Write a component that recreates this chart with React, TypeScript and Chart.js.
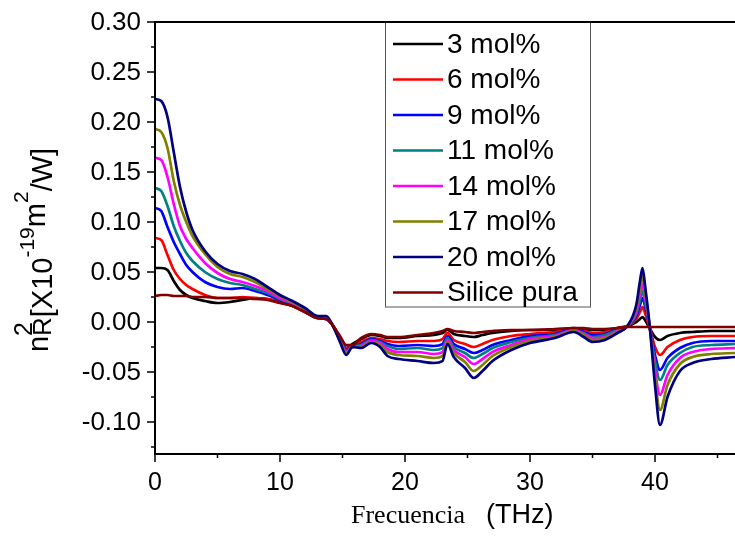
import React, { useEffect, useRef } from "react";
import { Chart, registerables } from "chart.js";

Chart.register(...registerables);

// Frequency (THz) sample positions
const FREQ = [
  0, 0.5, 1, 1.5, 2, 2.5, 3, 4, 5, 6, 7, 8, 9, 10, 11, 12, 13, 13.7, 14.2, 14.8,
  15.3, 15.8, 16.5, 17.3, 18, 18.6, 19.5, 21, 22.3, 23, 23.4, 23.9, 24.8, 25.5, 26.2, 27, 28.5,
  30, 32, 33.5, 34.3, 35, 36, 37, 37.8, 38.5, 38.8, 39, 39.2, 39.6, 40, 40.4, 41, 42, 43, 44.5, 46.4,
];

const MOL3 = [
  0.054, 0.054, 0.052, 0.041, 0.032, 0.027, 0.024, 0.021, 0.019, 0.020, 0.022, 0.024, 0.023, 0.020, 0.016, 0.010, 0.004, 0.003, -0.003, -0.016,
  -0.026, -0.022, -0.017, -0.013, -0.014, -0.016, -0.016, -0.014, -0.013, -0.011, -0.008, -0.012, -0.014, -0.015, -0.013, -0.011, -0.009,
  -0.008, -0.008, -0.006, -0.007, -0.008, -0.008, -0.006, -0.004, 0.000, 0.003, 0.005, 0.002, -0.007, -0.015, -0.018, -0.014, -0.011, -0.010, -0.009, -0.009,
];
const MOL6 = [
  0.084, 0.082, 0.067, 0.052, 0.043, 0.037, 0.033, 0.027, 0.024, 0.024, 0.025, 0.024, 0.023, 0.020, 0.016, 0.010, 0.004, 0.003, -0.003, -0.016,
  -0.026, -0.024, -0.020, -0.016, -0.017, -0.019, -0.020, -0.019, -0.019, -0.017, -0.011, -0.018, -0.022, -0.025, -0.022, -0.018, -0.014,
  -0.012, -0.010, -0.007, -0.009, -0.011, -0.010, -0.006, -0.004, 0.003, 0.010, 0.015, 0.009, -0.007, -0.025, -0.033, -0.025, -0.018, -0.015, -0.014, -0.014,
];
const MOL9 = [
  0.114, 0.111, 0.095, 0.080, 0.068, 0.057, 0.050, 0.040, 0.035, 0.033, 0.034, 0.031, 0.027, 0.022, 0.017, 0.011, 0.004, 0.003, -0.003, -0.017,
  -0.028, -0.025, -0.022, -0.017, -0.019, -0.022, -0.024, -0.023, -0.024, -0.022, -0.014, -0.022, -0.027, -0.031, -0.028, -0.023, -0.018,
  -0.014, -0.012, -0.007, -0.010, -0.013, -0.012, -0.007, -0.004, 0.006, 0.017, 0.024, 0.016, -0.007, -0.033, -0.048, -0.036, -0.026, -0.021, -0.019, -0.019,
];
const MOL11 = [
  0.134, 0.131, 0.116, 0.096, 0.081, 0.069, 0.061, 0.050, 0.043, 0.039, 0.037, 0.033, 0.029, 0.023, 0.018, 0.011, 0.004, 0.004, -0.003, -0.018,
  -0.029, -0.025, -0.023, -0.018, -0.020, -0.024, -0.027, -0.026, -0.028, -0.026, -0.016, -0.025, -0.031, -0.036, -0.032, -0.026, -0.020,
  -0.016, -0.013, -0.008, -0.011, -0.015, -0.013, -0.008, -0.004, 0.008, 0.022, 0.031, 0.021, -0.007, -0.039, -0.058, -0.043, -0.031, -0.025, -0.023, -0.022,
];
const MOL14 = [
  0.164, 0.162, 0.145, 0.118, 0.096, 0.083, 0.074, 0.059, 0.049, 0.043, 0.040, 0.036, 0.031, 0.024, 0.019, 0.012, 0.005, 0.004, -0.003, -0.018,
  -0.030, -0.025, -0.024, -0.019, -0.021, -0.027, -0.030, -0.030, -0.032, -0.030, -0.018, -0.028, -0.035, -0.042, -0.037, -0.030, -0.023,
  -0.017, -0.014, -0.008, -0.012, -0.016, -0.015, -0.009, -0.004, 0.011, 0.028, 0.038, 0.026, -0.007, -0.048, -0.073, -0.053, -0.036, -0.030, -0.027, -0.026,
];
const MOL17 = [
  0.193, 0.190, 0.174, 0.141, 0.117, 0.100, 0.086, 0.068, 0.055, 0.048, 0.045, 0.040, 0.033, 0.026, 0.020, 0.013, 0.005, 0.005, -0.003, -0.019,
  -0.031, -0.025, -0.025, -0.020, -0.023, -0.030, -0.033, -0.034, -0.036, -0.034, -0.020, -0.031, -0.040, -0.049, -0.043, -0.034, -0.025,
  -0.019, -0.015, -0.009, -0.013, -0.018, -0.016, -0.010, -0.004, 0.014, 0.034, 0.046, 0.031, -0.007, -0.055, -0.088, -0.063, -0.042, -0.035, -0.032, -0.031,
];
const MOL20 = [
  0.223, 0.221, 0.205, 0.170, 0.135, 0.110, 0.092, 0.071, 0.058, 0.051, 0.048, 0.043, 0.035, 0.027, 0.021, 0.014, 0.006, 0.006, -0.003, -0.020,
  -0.033, -0.025, -0.026, -0.021, -0.025, -0.034, -0.037, -0.039, -0.041, -0.039, -0.022, -0.035, -0.046, -0.056, -0.049, -0.039, -0.028,
  -0.021, -0.016, -0.010, -0.015, -0.020, -0.018, -0.011, -0.004, 0.017, 0.041, 0.054, 0.037, -0.007, -0.063, -0.103, -0.075, -0.049, -0.041, -0.037, -0.035,
];
const SILICA = [
  0.026, 0.027, 0.027, 0.026, 0.026, 0.026, 0.025, 0.025, 0.024, 0.024, 0.024, 0.023, 0.022, 0.019, 0.016, 0.010, 0.004, 0.003, -0.003, -0.014,
  -0.023, -0.023, -0.016, -0.012, -0.013, -0.015, -0.015, -0.013, -0.011, -0.009, -0.007, -0.009, -0.010, -0.011, -0.010, -0.009, -0.008,
  -0.008, -0.007, -0.006, -0.006, -0.007, -0.007, -0.006, -0.005, -0.005, -0.005, -0.005, -0.005, -0.005, -0.005, -0.005, -0.005, -0.005, -0.005, -0.005, -0.005,
];

const SERIES_LABELS = ["3 mol%", "6 mol%", "9 mol%", "11 mol%", "14 mol%", "17 mol%", "20 mol%", "Silice pura"];
const SERIES_COLORS = ["#000000", "#ff0000", "#0000ff", "#008080", "#ff00ff", "#808000", "#000080", "#800000"];
const SERIES_VALUES = [MOL3, MOL6, MOL9, MOL11, MOL14, MOL17, MOL20, SILICA];

const Y_TICKS = [0.3, 0.25, 0.2, 0.15, 0.1, 0.05, 0, -0.05, -0.1];
const Y_TICK_LABELS = ["0.30", "0.25", "0.20", "0.15", "0.10", "0.05", "0.00", "-0.05", "-0.10"];
const Y_MINOR = [0.275, 0.225, 0.175, 0.125, 0.075, 0.025, -0.025, -0.075, -0.125];
const X_TICKS = [0, 10, 20, 30, 40];
const X_TICK_LABELS = ["0", "10", "20", "30", "40"];
const X_MINOR = [5, 15, 25, 35, 45];

const SANS = '"Liberation Sans", Arial, sans-serif';
const SERIF = '"Liberation Serif", "Times New Roman", serif';

const decorPlugin = {
  id: "decor",
  afterDatasetsDraw(chart: any) {
    const ctx: CanvasRenderingContext2D = chart.ctx;
    const xs = chart.scales.x;
    const ys = chart.scales.y;
    const { left, right, top, bottom } = chart.chartArea;
    ctx.save();
    ctx.strokeStyle = "#000";
    ctx.lineCap = "butt";
    // frame
    ctx.lineWidth = 2;
    ctx.beginPath();
    ctx.moveTo(left, top);
    ctx.lineTo(right, top);
    ctx.moveTo(left, top - 1);
    ctx.lineTo(left, bottom);
    ctx.lineTo(right, bottom);
    ctx.stroke();
    // ticks
    ctx.lineWidth = 1.5;
    ctx.beginPath();
    Y_TICKS.forEach((v) => {
      const y = ys.getPixelForValue(v);
      ctx.moveTo(left - 8, y);
      ctx.lineTo(left, y);
    });
    Y_MINOR.forEach((v) => {
      const y = ys.getPixelForValue(v);
      ctx.moveTo(left - 4, y);
      ctx.lineTo(left, y);
    });
    X_TICKS.forEach((v) => {
      const x = xs.getPixelForValue(v);
      ctx.moveTo(x, bottom);
      ctx.lineTo(x, bottom + 8);
    });
    X_MINOR.forEach((v) => {
      const x = xs.getPixelForValue(v);
      ctx.moveTo(x, bottom);
      ctx.lineTo(x, bottom + 4);
    });
    ctx.stroke();

    // tick labels
    ctx.fillStyle = "#000";
    ctx.font = `26px ${SANS}`;
    ctx.textAlign = "right";
    ctx.textBaseline = "middle";
    Y_TICKS.forEach((v, i) => ctx.fillText(Y_TICK_LABELS[i], left - 14, ys.getPixelForValue(v) + 1));
    ctx.font = `25px ${SANS}`;
    ctx.textAlign = "center";
    X_TICKS.forEach((v, i) => ctx.fillText(X_TICK_LABELS[i], xs.getPixelForValue(v), bottom + 29));

    // x title
    ctx.textAlign = "left";
    ctx.textBaseline = "alphabetic";
    ctx.font = `26px ${SERIF}`;
    ctx.fillText("Frecuencia", 351, 523);
    ctx.font = `27px ${SANS}`;
    ctx.fillText("(THz)", 486, 523);

    // y title (rotated)
    ctx.save();
    ctx.translate(53, 250);
    ctx.rotate(-Math.PI / 2);
    const big = `29px ${SANS}`;
    const mid = `25px ${SANS}`;
    const small = `21px ${SANS}`;
    type Piece = { t: string; f: string; dy: number; stack?: { t: string; f: string; dy: number } };
    const pieces: Piece[] = [
      { t: "n", f: big, dy: -5 },
      { t: "2", f: mid, dy: -21, stack: { t: "R", f: `26px ${SANS}`, dy: -2 } },
      { t: "[X10", f: big, dy: -1 },
      { t: "-19", f: small, dy: -19 },
      { t: "m", f: big, dy: -8 },
      { t: "2", f: small, dy: -25 },
      { t: "/W]", f: big, dy: -1 },
    ];
    const widths = pieces.map((p) => {
      ctx.font = p.f;
      let w = ctx.measureText(p.t).width;
      if (p.stack) {
        ctx.font = p.stack.f;
        w = Math.max(w, ctx.measureText(p.stack.t).width);
      }
      return w;
    });
    const total = widths.reduce((a, b) => a + b, 0);
    let cx = -total / 2;
    ctx.textAlign = "left";
    pieces.forEach((p, i) => {
      ctx.font = p.f;
      ctx.fillText(p.t, cx, p.dy);
      if (p.stack) {
        ctx.font = p.stack.f;
        ctx.fillText(p.stack.t, cx, p.stack.dy);
      }
      cx += widths[i];
    });
    ctx.restore();

    // legend box
    const lx0 = 385, lx1 = 590, ly0 = top, ly1 = 307;
    ctx.fillStyle = "#fff";
    ctx.fillRect(lx0, ly0, lx1 - lx0, ly1 - ly0);
    ctx.strokeStyle = "#555";
    ctx.lineWidth = 1;
    ctx.strokeRect(lx0 + 0.5, ly0, lx1 - lx0, ly1 - ly0);
    ctx.font = `28px ${SANS}`;
    ctx.textAlign = "left";
    ctx.textBaseline = "middle";
    chart.data.datasets.forEach((ds: any, i: number) => {
      const y = 44 + i * 35.5;
      ctx.strokeStyle = ds.borderColor;
      ctx.lineWidth = 2.5;
      ctx.beginPath();
      ctx.moveTo(393, y);
      ctx.lineTo(443, y);
      ctx.stroke();
      ctx.fillStyle = "#000";
      ctx.fillText(ds.label, 447, y + 1);
    });
    // redraw top frame line over legend
    ctx.strokeStyle = "#000";
    ctx.lineWidth = 2;
    ctx.beginPath();
    ctx.moveTo(left, top);
    ctx.lineTo(right, top);
    ctx.stroke();
    ctx.restore();
  },
};

export default function App() {
  const ref = useRef<HTMLCanvasElement | null>(null);
  useEffect(() => {
    document.body.style.margin = "0";
    const canvas = ref.current;
    if (!canvas) return;
    const datasets = SERIES_LABELS.map((label, i) => ({
      label,
      data: FREQ.map((x, j) => ({ x, y: SERIES_VALUES[i][j] })),
      borderColor: SERIES_COLORS[i],
      backgroundColor: SERIES_COLORS[i],
      borderWidth: 2.7,
      pointRadius: 0,
      fill: false,
      cubicInterpolationMode: "monotone" as const,
      order: i === 7 ? 0 : 8 - i,
    }));
    const chart = new Chart(canvas, {
      type: "line",
      data: { datasets },
      options: {
        animation: false,
        responsive: false,
        devicePixelRatio: 1,
        layout: { padding: { top: 22, left: 0, right: 0, bottom: 0 } },
        plugins: { legend: { display: false }, tooltip: { enabled: false } },
        scales: {
          x: {
            type: "linear",
            min: 0,
            max: 46.4,
            ticks: { display: false },
            grid: { display: false },
            border: { display: false },
            afterFit: (s: any) => {
              s.height = 87;
            },
          },
          y: {
            type: "linear",
            min: -0.132,
            max: 0.3,
            ticks: { display: false },
            grid: { display: false },
            border: { display: false },
            afterFit: (s: any) => {
              s.width = 155;
            },
          },
        },
      },
      plugins: [decorPlugin],
    });
    return () => chart.destroy();
  }, []);
  return <canvas ref={ref} width={735} height={541} style={{ display: "block", background: "#fff" }} />;
}
